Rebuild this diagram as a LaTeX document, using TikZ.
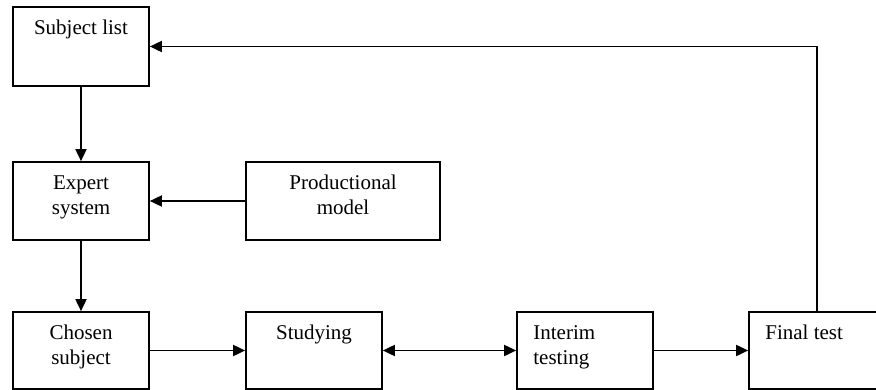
\documentclass[tikz,border=0pt]{standalone}
\usepackage{fontspec}
\setmainfont{Liberation Serif}
\usetikzlibrary{arrows.meta}
\newcommand\tstrut{\rule{0pt}{15pt}}
\tikzset{
  box/.style={draw=black, line width=1.7pt, rectangle, inner sep=0pt, minimum width=136pt, minimum height=78pt},
  lbl/.style={inner sep=0pt, font=\fontsize{21}{25}\selectfont},
  tip/.style={},
  conn/.style={line width=1.8pt, -{Triangle[length=12pt,width=11pt]}},
  conn2/.style={line width=1.8pt, {Triangle[length=12pt,width=11pt]}-{Triangle[length=12pt,width=11pt]}}
}
\begin{document}
\begin{tikzpicture}[x=1pt,y=-1pt]
\clip (0,0) rectangle (876,390);
\fill[white] (0,0) rectangle (876,390);
% boxes
\node[box, minimum height=79pt] (sl) at (81,46.5) {};
\node[box] (es) at (81,201) {};
\node[box, minimum width=194pt] (pm) at (343,201) {};
\node[box, minimum height=77pt] (cs) at (81,350.5) {};
\node[box, minimum height=77pt] (st) at (314,350.5) {};
\node[box, minimum height=77pt] (it) at (585,350.5) {};
\node[box, minimum height=77pt] (ft) at (817,350.5) {};
% labels
\node[lbl, anchor=north, yshift=-13.5pt] (tsl) at (sl.north) {\tstrut Subject list};
\node[lbl, anchor=north, yshift=-13.5pt, align=center] (tes) at (es.north) {\tstrut Expert\\system};
\node[lbl, anchor=north, yshift=-13.5pt, align=center] (tpm) at (pm.north) {\tstrut Productional\\model};
\node[lbl, anchor=north, yshift=-13.5pt, align=center] (tcs) at (cs.north) {\tstrut Chosen\\subject};
\node[lbl, anchor=north, yshift=-13.5pt] (tst) at (st.north) {\tstrut Studying};
\node[lbl, anchor=north west, yshift=-13.5pt, xshift=17pt, align=left] (tit) at (it.north west) {\tstrut Interim\\testing};
\node[lbl, anchor=north west, yshift=-13.5pt, xshift=17pt] (tft) at (ft.north west) {\tstrut Final test};
% connectors
\draw[conn] (sl.south) -- (es.north);
\draw[conn] (pm.west) -- (es.east);
\draw[conn] (es.south) -- (cs.north);
\draw[conn] (cs.east) -- (st.west);
\draw[conn2] (st.east) -- (it.west);
\draw[conn] (it.east) -- (ft.west);
\draw[conn] (ft.north) |- (sl.east);
\end{tikzpicture}
\end{document}
